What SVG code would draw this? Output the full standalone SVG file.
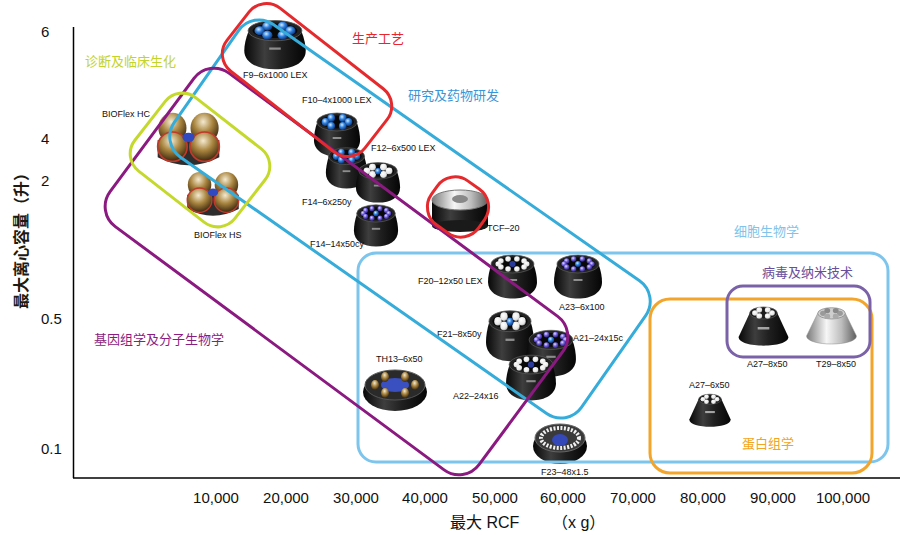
<svg xmlns="http://www.w3.org/2000/svg" xmlns:xlink="http://www.w3.org/1999/xlink" width="900" height="535" viewBox="0 0 900 535">
<style>
.t{font-family:"Liberation Sans","Noto Sans CJK SC",sans-serif;}
.tick{font-size:15px;fill:#111;}
.lab{font-size:9px;fill:#111;}
.cat{font-size:13px;}
.reg{fill:none;stroke-width:3;}
.axis{stroke:#000;stroke-width:1.5;fill:none;}
</style>
<defs>
<linearGradient id="gBody" x1="0" y1="0" x2="1" y2="0">
<stop offset="0" stop-color="#070707"/><stop offset="0.33" stop-color="#3e3e3e"/><stop offset="0.6" stop-color="#202020"/><stop offset="1" stop-color="#050505"/>
</linearGradient>
<linearGradient id="gSilver" x1="0" y1="0" x2="1" y2="0">
<stop offset="0" stop-color="#7a7a7a"/><stop offset="0.4" stop-color="#f6f6f6"/><stop offset="0.7" stop-color="#bdbdbd"/><stop offset="1" stop-color="#5e5e5e"/>
</linearGradient>
<radialGradient id="gBlue" cx="0.4" cy="0.35" r="0.7">
<stop offset="0" stop-color="#d8ecff"/><stop offset="0.45" stop-color="#2f82e0"/><stop offset="1" stop-color="#0c2a6a"/>
</radialGradient>
<radialGradient id="gPurple" cx="0.4" cy="0.35" r="0.7">
<stop offset="0" stop-color="#e2d8ff"/><stop offset="0.5" stop-color="#6b5ad8"/><stop offset="1" stop-color="#261b6a"/>
</radialGradient>
<radialGradient id="gWhite" cx="0.4" cy="0.35" r="0.7">
<stop offset="0" stop-color="#ffffff"/><stop offset="0.7" stop-color="#e6e6e6"/><stop offset="1" stop-color="#9a9a9a"/>
</radialGradient>
<radialGradient id="gGold" cx="0.45" cy="0.3" r="0.75">
<stop offset="0" stop-color="#f4ead0"/><stop offset="0.45" stop-color="#a8843e"/><stop offset="1" stop-color="#2a1a08"/>
</radialGradient>
<symbol id="fixed" viewBox="0 0 100 100" preserveAspectRatio="none">
<path d="M9,28 C4,42 2,54 2,64 C2,85 22,97 50,97 C78,97 98,85 98,64 C98,54 96,42 91,28 Z" fill="url(#gBody)"/>
<ellipse cx="50" cy="28" rx="42" ry="18" fill="#232323" stroke="#5a5a5a" stroke-width="1.5"/>
<ellipse cx="50" cy="28" rx="35" ry="13" fill="#080808"/>
<rect x="41" y="58" width="18" height="4" fill="#cfcfcf" opacity="0.6"/>
</symbol>
<symbol id="tubesBlue" viewBox="0 0 100 100" preserveAspectRatio="none">
<circle cx="38" cy="20" r="8" fill="url(#gBlue)"/><circle cx="62" cy="20" r="8" fill="url(#gBlue)"/>
<circle cx="26" cy="28" r="8" fill="url(#gBlue)"/><circle cx="74" cy="28" r="8" fill="url(#gBlue)"/>
<circle cx="38" cy="36" r="8" fill="url(#gBlue)"/><circle cx="62" cy="36" r="8" fill="url(#gBlue)"/>
</symbol>
<symbol id="tubesWhite" viewBox="0 0 100 100" preserveAspectRatio="none">
<circle cx="38" cy="20" r="7.5" fill="url(#gWhite)"/><circle cx="62" cy="20" r="7.5" fill="url(#gWhite)"/>
<circle cx="26" cy="28" r="7.5" fill="url(#gWhite)"/><circle cx="74" cy="28" r="7.5" fill="url(#gWhite)"/>
<circle cx="38" cy="36" r="7.5" fill="url(#gWhite)"/><circle cx="62" cy="36" r="7.5" fill="url(#gWhite)"/>
<circle cx="50" cy="29" r="7" fill="url(#gBlue)"/>
</symbol>
<symbol id="tubesPurple" viewBox="0 0 100 100" preserveAspectRatio="none">
<circle cx="41.3" cy="18" r="5.5" fill="url(#gPurple)"/><circle cx="58.7" cy="18" r="5.5" fill="url(#gPurple)"/>
<circle cx="27.3" cy="21.8" r="5.5" fill="url(#gPurple)"/><circle cx="72.7" cy="21.8" r="5.5" fill="url(#gPurple)"/>
<circle cx="22" cy="28" r="5.5" fill="url(#gPurple)"/><circle cx="78" cy="28" r="5.5" fill="url(#gPurple)"/>
<circle cx="27.3" cy="34.2" r="5.5" fill="url(#gPurple)"/><circle cx="72.7" cy="34.2" r="5.5" fill="url(#gPurple)"/>
<circle cx="41.3" cy="38" r="5.5" fill="url(#gPurple)"/><circle cx="58.7" cy="38" r="5.5" fill="url(#gPurple)"/>
<circle cx="50" cy="28" r="6" fill="url(#gBlue)"/>
</symbol>
<symbol id="tubesRing" viewBox="0 0 100 100" preserveAspectRatio="none">
<circle cx="41.3" cy="18" r="5.5" fill="url(#gWhite)"/><circle cx="58.7" cy="18" r="5.5" fill="url(#gWhite)"/>
<circle cx="27.3" cy="21.8" r="5.5" fill="url(#gWhite)"/><circle cx="72.7" cy="21.8" r="5.5" fill="url(#gWhite)"/>
<circle cx="22" cy="28" r="5.5" fill="url(#gWhite)"/><circle cx="78" cy="28" r="5.5" fill="url(#gWhite)"/>
<circle cx="27.3" cy="34.2" r="5.5" fill="url(#gWhite)"/><circle cx="72.7" cy="34.2" r="5.5" fill="url(#gWhite)"/>
<circle cx="41.3" cy="38" r="5.5" fill="url(#gWhite)"/><circle cx="58.7" cy="38" r="5.5" fill="url(#gWhite)"/>
<circle cx="50" cy="28" r="6" fill="#2a3a9a"/>
</symbol>
<symbol id="cone" viewBox="0 0 100 100" preserveAspectRatio="none">
<path d="M24,22 L3,70 C3,93 97,93 97,70 L76,22 Z" fill="url(#gBody)"/>
<ellipse cx="50" cy="22" rx="26" ry="12" fill="#1c1c1c" stroke="#555" stroke-width="1.5"/>
<circle cx="34" cy="22" r="5.5" fill="url(#gWhite)"/><circle cx="66" cy="22" r="5.5" fill="url(#gWhite)"/>
<circle cx="42" cy="16" r="5.5" fill="url(#gWhite)"/><circle cx="58" cy="16" r="5.5" fill="url(#gWhite)"/>
<circle cx="42" cy="28" r="5.5" fill="url(#gWhite)"/><circle cx="58" cy="28" r="5.5" fill="url(#gWhite)"/>
<rect x="39" y="50" width="22" height="5" fill="#d8d8d8" opacity="0.7"/>
</symbol>
<symbol id="coneSilver" viewBox="0 0 100 100" preserveAspectRatio="none">
<path d="M24,22 L3,70 C3,93 97,93 97,70 L76,22 Z" fill="url(#gSilver)" stroke="#8a8a8a" stroke-width="1"/>
<ellipse cx="50" cy="22" rx="26" ry="12" fill="#cfcfcf" stroke="#888" stroke-width="1.5"/>
<circle cx="34" cy="22" r="5.5" fill="#9a9a9a"/><circle cx="66" cy="22" r="5.5" fill="#9a9a9a"/>
<circle cx="42" cy="16" r="5.5" fill="#8a8a8a"/><circle cx="58" cy="16" r="5.5" fill="#8a8a8a"/>
<circle cx="42" cy="28" r="5.5" fill="#aaaaaa"/><circle cx="58" cy="28" r="5.5" fill="#aaaaaa"/>
</symbol>
<symbol id="bioflex" viewBox="0 0 100 90" preserveAspectRatio="none">
<path d="M4,48 L4,74 Q50,98 96,74 L96,48 Z" fill="#2e2e2e"/>
<ellipse cx="26" cy="30" rx="21" ry="23" fill="url(#gGold)"/>
<ellipse cx="74" cy="30" rx="21" ry="23" fill="url(#gGold)"/>
<ellipse cx="26" cy="58" rx="22" ry="22" fill="url(#gGold)" stroke="#c0392b" stroke-width="2.5"/>
<ellipse cx="74" cy="58" rx="22" ry="22" fill="url(#gGold)" stroke="#c0392b" stroke-width="2.5"/>
<ellipse cx="50" cy="44" rx="9" ry="7" fill="#3048c0"/>
</symbol>
</defs>

<g id="axes">
<line class="axis" x1="73.5" y1="27" x2="73.5" y2="478"/>
<line class="axis" x1="73" y1="478" x2="900" y2="478"/>
</g>

<g id="y-ticks" class="t tick">
<text x="41" y="37">6</text>
<text x="41" y="144">4</text>
<text x="41" y="186">2</text>
<text x="41" y="324">0.5</text>
<text x="41" y="454">0.1</text>
</g>
<g id="x-ticks" class="t tick" text-anchor="middle">
<text x="216" y="503">10,000</text>
<text x="286" y="503">20,000</text>
<text x="356" y="503">30,000</text>
<text x="425" y="503">40,000</text>
<text x="495" y="503">50,000</text>
<text x="563" y="503">60,000</text>
<text x="633" y="503">70,000</text>
<text x="703" y="503">80,000</text>
<text x="773" y="503">90,000</text>
<text x="843" y="503">100,000</text>
</g>
<text id="y-title" class="t" font-size="16" font-weight="bold" fill="#1e1a12" text-anchor="middle" transform="translate(27,237) rotate(-90)">最大离心容量（升）</text>
<text id="x-title" class="t" font-size="16" fill="#111" x="450" y="528">最大 RCF<tspan x="552">（x g）</tspan></text>

<g id="rotors">
<g id="rotor-F9"><use xlink:href="#fixed" x="243" y="15" width="64" height="56"/><use xlink:href="#tubesBlue" x="243" y="15" width="64" height="56"/></g>
<g id="rotor-F10"><use xlink:href="#fixed" x="313" y="108" width="48" height="50"/><use xlink:href="#tubesBlue" x="313" y="108" width="48" height="50"/></g>
<g id="rotor-F14-6x250y"><use xlink:href="#fixed" x="325" y="143" width="43" height="47"/><use xlink:href="#tubesBlue" x="325" y="143" width="43" height="47"/></g>
<g id="rotor-F12"><use xlink:href="#fixed" x="355" y="158" width="46" height="46"/><use xlink:href="#tubesWhite" x="355" y="158" width="46" height="46"/></g>
<g id="rotor-F14-14x50cy"><use xlink:href="#fixed" x="353" y="200" width="46" height="48"/><use xlink:href="#tubesPurple" x="353" y="200" width="46" height="48"/></g>
<g id="rotor-BIOFlex-HC"><use xlink:href="#bioflex" x="155" y="108" width="67" height="60"/></g>
<g id="rotor-BIOFlex-HS"><use xlink:href="#bioflex" x="185" y="168" width="56" height="50"/></g>
<g id="rotor-TCF-20">
<rect x="432" y="200" width="56" height="26" fill="url(#gBody)"/>
<ellipse cx="460" cy="226" rx="28" ry="6" fill="#1a1a1a"/>
<ellipse cx="460" cy="200" rx="28" ry="10" fill="url(#gSilver)" stroke="#777" stroke-width="1"/>
<ellipse cx="460" cy="199" rx="8" ry="4" fill="#888"/>
</g>
<g id="rotor-F20"><use xlink:href="#fixed" x="487" y="250" width="51" height="50"/><use xlink:href="#tubesRing" x="487" y="250" width="51" height="50"/></g>
<g id="rotor-A23"><use xlink:href="#fixed" x="553" y="250" width="50" height="50"/><use xlink:href="#tubesPurple" x="553" y="250" width="50" height="50"/></g>
<g id="rotor-F21"><use xlink:href="#fixed" x="485" y="305" width="50" height="58"/><use xlink:href="#tubesWhite" x="485" y="305" width="50" height="58"/></g>
<g id="rotor-A21"><use xlink:href="#fixed" x="525" y="325" width="52" height="53"/><use xlink:href="#tubesPurple" x="525" y="325" width="52" height="53"/></g>
<g id="rotor-A22"><use xlink:href="#fixed" x="505" y="350" width="52" height="52"/><use xlink:href="#tubesRing" x="505" y="350" width="52" height="52"/></g>
<g id="rotor-TH13">
<ellipse cx="395" cy="392" rx="32" ry="19" fill="url(#gBody)"/>
<ellipse cx="395" cy="385" rx="30" ry="15" fill="#2a2a2a" stroke="#555" stroke-width="1"/>
<ellipse cx="395" cy="385" rx="14" ry="7" fill="#3a4fc0"/>
<g fill="url(#gGold)">
<ellipse cx="375" cy="385" rx="4" ry="5"/><ellipse cx="415" cy="385" rx="4" ry="5"/>
<ellipse cx="385" cy="377" rx="4" ry="5"/><ellipse cx="405" cy="377" rx="4" ry="5"/>
<ellipse cx="385" cy="393" rx="4" ry="5"/><ellipse cx="405" cy="393" rx="4" ry="5"/>
</g>
</g>
<g id="rotor-F23">
<ellipse cx="560" cy="446" rx="27" ry="18" fill="url(#gBody)"/>
<ellipse cx="560" cy="438" rx="25" ry="14" fill="#3a3a3a" stroke="#666" stroke-width="1"/>
<ellipse cx="560" cy="438" rx="19" ry="10" fill="none" stroke="#f0f0f0" stroke-width="4" stroke-dasharray="2 1.5"/>
<ellipse cx="560" cy="440" rx="8" ry="6" fill="#3548b8"/>
</g>
<g id="rotor-A27-8x50"><use xlink:href="#cone" x="737" y="302" width="53" height="50"/></g>
<g id="rotor-T29-8x50"><use xlink:href="#coneSilver" x="805" y="303" width="53" height="47"/></g>
<g id="rotor-A27-6x50"><use xlink:href="#cone" x="688" y="390" width="44" height="42"/></g>
</g>

<g id="rotor-labels" class="t lab">
<text x="243" y="78">F9–6x1000 LEX</text>
<text x="302" y="103">F10–4x1000 LEX</text>
<text x="102" y="117">BIOFlex HC</text>
<text x="371" y="151">F12–6x500 LEX</text>
<text x="302" y="205">F14–6x250y</text>
<text x="194" y="238">BIOFlex HS</text>
<text x="310" y="247">F14–14x50cy</text>
<text x="487" y="231">TCF–20</text>
<text x="418" y="284">F20–12x50 LEX</text>
<text x="559" y="310">A23–6x100</text>
<text x="437" y="337">F21–8x50y</text>
<text x="573" y="341">A21–24x15c</text>
<text x="376" y="362">TH13–6x50</text>
<text x="453" y="399">A22–24x16</text>
<text x="541" y="475">F23–48x1.5</text>
<text x="747" y="367">A27–8x50</text>
<text x="816" y="367">T29–8x50</text>
<text x="689" y="388">A27–6x50</text>
</g>

<g id="regions">
<rect id="region-cell" class="reg" stroke="#7DC5EC" x="358" y="253" width="530" height="209" rx="18"/>
<rect id="region-protein" class="reg" stroke="#F2A52A" x="650" y="299" width="222" height="174" rx="20"/>
<rect id="region-virus" class="reg" stroke="#7B62A8" x="727" y="286" width="143" height="71" rx="16"/>
<rect id="region-research" class="reg" stroke="#35ACD9" x="-248.5" y="-81" width="497" height="162" rx="25" transform="translate(410,219) rotate(35)"/>
<rect id="region-genomics" class="reg" stroke="#8B1A80" x="-229.5" y="-95.5" width="459" height="191" rx="25" transform="translate(336.5,271.5) rotate(36.5)"/>
<rect id="region-diagnostic" class="reg" stroke="#C5D92D" x="-63.5" y="-46.5" width="127" height="93" rx="22" transform="translate(200,160) rotate(38)"/>
<rect id="region-production" class="reg" stroke="#E52A2E" x="-87.5" y="-40" width="175" height="80" rx="22" transform="translate(307,80) rotate(38)"/>
<rect id="region-tcf" class="reg" stroke="#E52A2E" x="-29" y="-27" width="58" height="54" rx="22" transform="translate(458,207) rotate(35)"/>
</g>

<g id="region-labels" class="t cat">
<text x="352" y="43" fill="#E8262B">生产工艺</text>
<text x="85" y="66" fill="#C2D32A">诊断及临床生化</text>
<text x="408" y="100" fill="#3A95D6">研究及药物研发</text>
<text x="734" y="236" fill="#7FC4EA">细胞生物学</text>
<text x="762" y="277" fill="#6A4E9B">病毒及纳米技术</text>
<text x="742" y="448" fill="#F2A422">蛋白组学</text>
<text x="94" y="344" fill="#8C1D80">基因组学及分子生物学</text>
</g>
</svg>
